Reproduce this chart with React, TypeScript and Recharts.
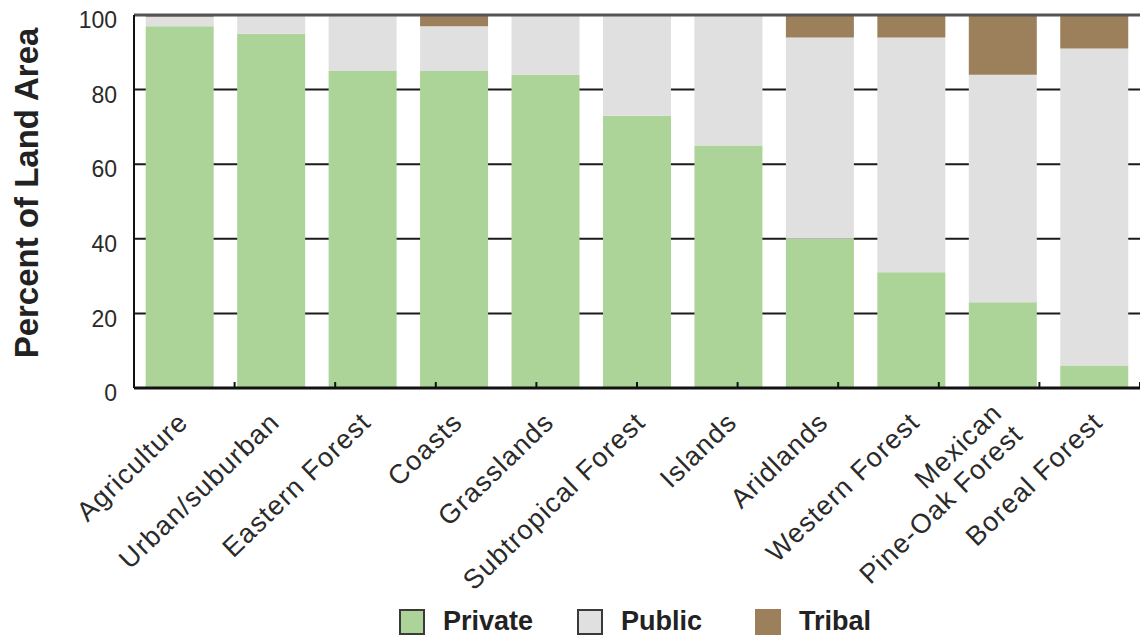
import React from 'react';
import { BarChart, Bar, XAxis, YAxis, CartesianGrid, Legend, ReferenceLine } from 'recharts';

const categories = [
  'Agriculture',
  'Urban/suburban',
  'Eastern Forest',
  'Coasts',
  'Grasslands',
  'Subtropical Forest',
  'Islands',
  'Aridlands',
  'Western Forest',
  'Mexican\nPine-Oak Forest',
  'Boreal Forest',
];
const privateShare = [97, 95, 85, 85, 84, 73, 65, 40, 31, 23, 6];
const publicShare = [2.5, 5, 15, 12, 16, 27, 35, 54, 63, 61, 85];
const tribalShare = [0.5, 0, 0, 3, 0, 0, 0, 6, 6, 16, 9];
const yTicks = [0, 20, 40, 60, 80, 100];
// edges between the category bands, on a hidden 0..11 axis
const bandEdges = [1, 2, 3, 4, 5, 6, 7, 8, 9, 10];

const FONT = '"Liberation Sans", Arial, Helvetica, sans-serif';
const GREEN = '#acd498';
const GREY = '#e0e0e0';
const BROWN = '#9c7f5b';

const data = categories.map((name, i) => ({
  name,
  Private: privateShare[i],
  Public: publicShare[i],
  Tribal: tribalShare[i],
}));

const XTick = ({ x, y, payload }: any) => {
  const lines = String(payload.value).split('\n');
  return (
    <g transform={`translate(${x + 10},${y + 36}) rotate(-44)`}>
      {lines.map((line, i) => (
        <text
          key={line}
          x={0}
          y={lines.length > 1 ? (i - 0.5) * 30 + 2 : 0}
          textAnchor="end"
          fontSize={27}
          letterSpacing={1.2}
          fontFamily={FONT}
          fill="#2a2a2a"
        >
          {line}
        </text>
      ))}
    </g>
  );
};

const YTitle = () => (
  <text
    transform="translate(38,193) rotate(-90)"
    textAnchor="middle"
    fontSize={33}
    fontWeight="bold"
    fill="#222"
    fontFamily={FONT}
  >
    Percent of Land Area
  </text>
);

const LegendBox = ({ payload }: any) => (
  <div style={{ display: 'flex', paddingLeft: 399, fontFamily: FONT }}>
    {(payload || []).map((entry: any) => (
      <div key={entry.value} style={{ width: 178, display: 'flex', alignItems: 'center' }}>
        <span
          style={{
            display: 'inline-block',
            width: 22,
            height: 22,
            background: entry.color,
            border: entry.value === 'Tribal' ? `2px solid ${BROWN}` : '2px solid #3a3a3a',
            marginRight: 18,
          }}
        />
        <span style={{ fontSize: 27, fontWeight: 'bold', color: '#222' }}>{entry.value}</span>
      </div>
    ))}
  </div>
);

export default function App() {
  return (
    <div style={{ width: 1140, height: 636, background: '#fff' }}>
      <style>{'body{margin:0}'}</style>
      <BarChart
        width={1140}
        height={636}
        data={data}
        margin={{ top: 15, right: 0, left: 0, bottom: 0 }}
        barCategoryGap="12.8%"
      >
        <CartesianGrid vertical={false} stroke="#1a1a1a" strokeWidth={2} />
        <XAxis
          dataKey="name"
          interval={0}
          height={198}
          tickLine={false}
          tickSize={0}
          tickMargin={0}
          tick={<XTick />}
          axisLine={{ stroke: '#111', strokeWidth: 3 }}
        />
        <XAxis xAxisId="edge" type="number" domain={[0, 11]} hide />
        <YAxis
          width={134}
          domain={[0, 100]}
          ticks={yTicks}
          tickLine={false}
          tickSize={0}
          tickMargin={17}
          tick={{ fontSize: 23, fill: '#2a2a2a', fontFamily: FONT, dy: 5 }}
          axisLine={{ stroke: '#111', strokeWidth: 2 }}
          label={<YTitle />}
        />
        <Legend
          verticalAlign="bottom"
          height={50}
          content={<LegendBox />}
          wrapperStyle={{ left: 0, width: 1140, bottom: -20 }}
        />
        <Bar dataKey="Private" stackId="a" fill={GREEN} isAnimationActive={false} />
        <Bar dataKey="Public" stackId="a" fill={GREY} isAnimationActive={false} />
        <Bar dataKey="Tribal" stackId="a" fill={BROWN} isAnimationActive={false} />
        <ReferenceLine y={100} stroke="#555" strokeWidth={3} />
        {bandEdges.map((e) => (
          <ReferenceLine
            key={e}
            xAxisId="edge"
            segment={[{ x: e, y: 0 }, { x: e, y: 1.6 }]}
            stroke="#111"
            strokeWidth={2}
          />
        ))}
      </BarChart>
    </div>
  );
}
